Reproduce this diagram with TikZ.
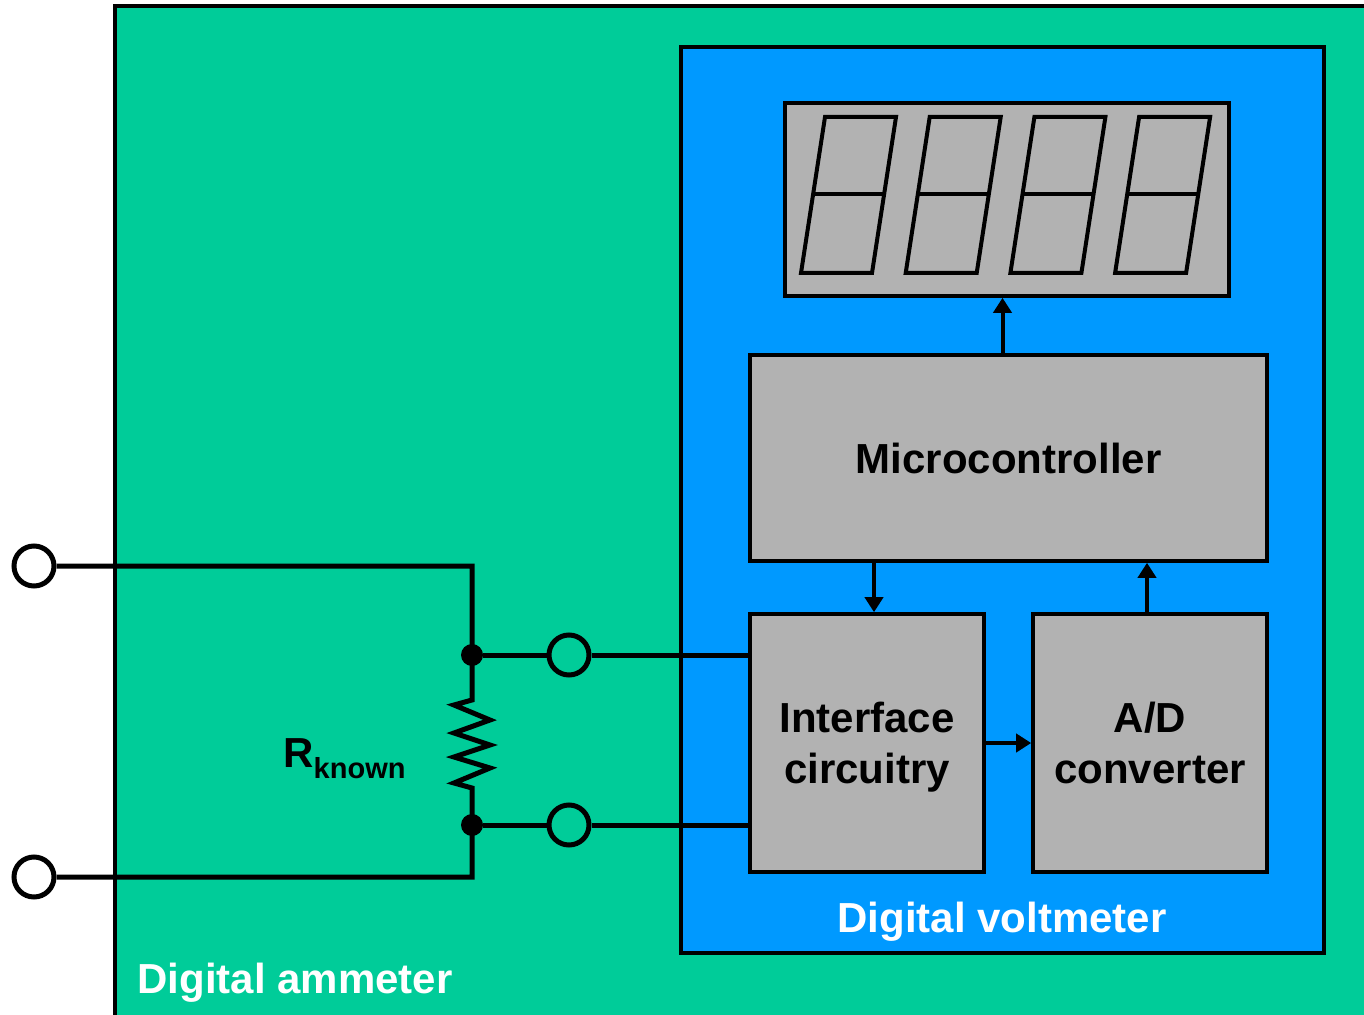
\documentclass[tikz,border=0pt]{standalone}
\usepackage{fontspec}
\setmainfont{Liberation Sans}
\usepackage{tikz}
\usetikzlibrary{arrows.meta}
\definecolor{ammgreen}{HTML}{00CC99}
\definecolor{vmblue}{HTML}{0099FF}
\definecolor{boxgrey}{HTML}{B2B2B2}

\begin{document}
\begin{tikzpicture}[x=0.5pt, y=-0.5pt]
        \tikzset{block/.style = {shape=rectangle,draw,line width=1.8pt,fill=boxgrey,inner sep=0pt,align=center,font=\fontsize{21}{25.5}\selectfont\bfseries}}
        \tikzset{term/.style = {shape=circle,draw,line width=2.5pt,minimum size=20pt,inner sep=0pt}}
        \tikzset{dot/.style = {shape=circle,fill,minimum size=11pt,inner sep=0pt}}
        \tikzset{wire/.style = {line width=2.5pt}}
        \tikzset{seg/.style = {line width=2pt}}
        \tikzset{arrow/.style = {-{Triangle[length=7.5pt,width=9pt]}, line width=2pt}}
        \tikzset{caption/.style = {text=white,inner sep=0pt,font=\fontsize{21}{25.5}\selectfont\bfseries}}
        \clip (0,0) rectangle (1364,1015);
        % ammeter and voltmeter cases
        \draw[line width=2pt, fill=ammgreen] (115,6) rectangle (1420,1060);
        \node[draw, line width=2pt, fill=vmblue, minimum width=321.5pt, minimum height=453pt] (dvm) at (1002.5,500) {};
        \node[caption, anchor=base west] (ammlabel) at (137,993) {Digital ammeter};
        \node[caption, anchor=base] (dvmlabel) at (1002,932) {Digital voltmeter};

        % blocks
        \node[block, minimum width=222pt, minimum height=96.5pt] (display) at (1007,199.5) {};
        \node[block, minimum width=258.5pt, minimum height=103pt] (micro) at (1008.5,458) {Microcontroller};
        \node[block, minimum width=117pt, minimum height=129pt] (interface) at (867,743) {Interface\\\raisebox{0pt}[\height][0pt]{circuitry}};
        \node[block, minimum width=117pt, minimum height=129pt] (adc) at (1150,743) {A/D\\converter};

        % digits
        \foreach \i in {0,...,3}{
            \draw[seg] ({825+104.7*\i},117) -- ({896+104.7*\i},117) -- ({872+104.7*\i},273) -- ({801+104.7*\i},273) -- cycle;
            \draw[seg] ({813+104.7*\i},194) -- ({884+104.7*\i},194);
        }

        % arrows
        \draw[arrow] ([xshift=-3pt]micro.north) -- ([xshift=-3pt]micro.north |- display.south);
        \draw[arrow] ([xshift=3.5pt]micro.south -| interface.north) -- ([xshift=3.5pt]interface.north);
        \draw[arrow] ([xshift=-1.5pt]adc.north) -- ([xshift=-1.5pt]adc.north |- micro.south);
        \draw[arrow] (interface.east) -- (adc.west);

        % terminals and junctions
        \node[term, fill=white] (tA) at (34,566) {};
        \node[term, fill=white] (tB) at (34,877) {};
        \node[term] (vA) at (569,655) {};
        \node[term] (vB) at (569,825) {};
        \node[dot] (jA) at (472,655) {};
        \node[dot] (jB) at (472,825) {};
        \coordinate (cA) at (472,566);
        \coordinate (cB) at (472,877);
        \coordinate (rTop) at (472,700);
        \coordinate (rBot) at (472,788);
        \node[anchor=base west, inner sep=0pt, font=\fontsize{21}{25.5}\selectfont\bfseries] (rlabel) at (283,767) {R\raisebox{-5.5pt}{\fontsize{14.5}{15}\selectfont known}};

        % wires
        \draw[wire] (tA) -- (cA) -- (rTop) -- ++(-18,5) -- ++(36,15) -- ++(-36,13) -- ++(36,12) -- ++(-36,12) -- ++(36,11) -- ++(-36,15) -- (rBot) -- (cB) -- (tB);
        \draw[wire] (jA) -- (vA);
        \draw[wire] (jB) -- (vB);
        \draw[wire] (vA) -- (interface.west |- vA);
        \draw[wire] (vB) -- (interface.west |- vB);
\end{tikzpicture}
\end{document}
